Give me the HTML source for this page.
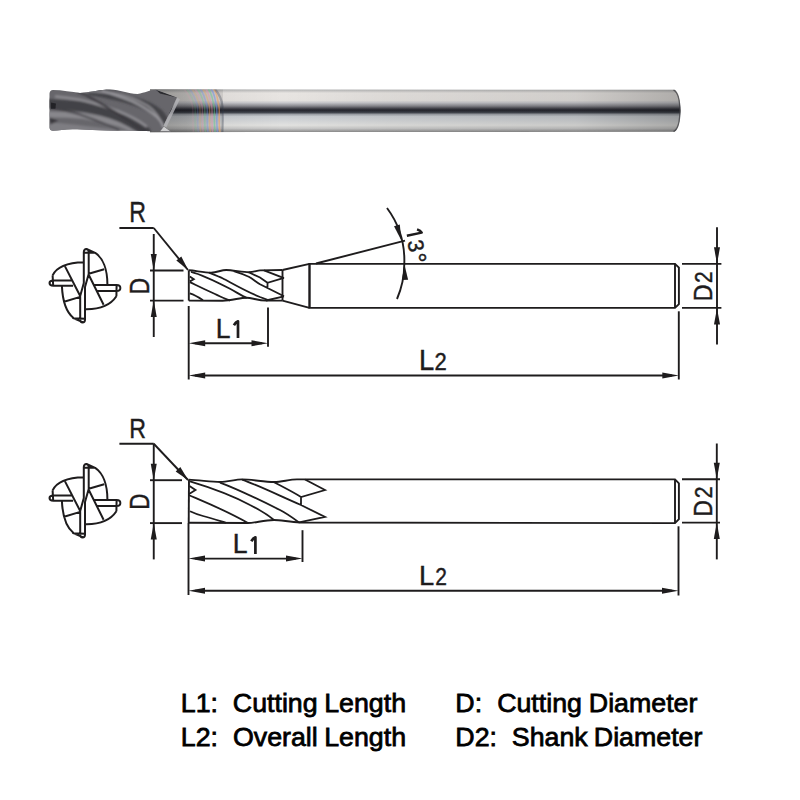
<!DOCTYPE html>
<html><head><meta charset="utf-8"><style>
html,body{margin:0;padding:0;background:#fff;width:800px;height:800px;overflow:hidden}
svg{display:block}
text{font-family:"Liberation Sans",sans-serif}
</style></head><body>
<svg width="800" height="800" viewBox="0 0 800 800">
<rect width="800" height="800" fill="#fff"/>
<defs>
<linearGradient id="shank" x1="0" y1="0" x2="0" y2="1">
<stop offset="0" stop-color="#7a7a7c"/>
<stop offset="0.04" stop-color="#b8b8b8"/>
<stop offset="0.11" stop-color="#e8e5e2"/>
<stop offset="0.27" stop-color="#e6e3e0"/>
<stop offset="0.32" stop-color="#c8c8cc"/>
<stop offset="0.39" stop-color="#8a8a90"/>
<stop offset="0.45" stop-color="#404048"/>
<stop offset="0.48" stop-color="#25262e"/>
<stop offset="0.53" stop-color="#3c4048"/>
<stop offset="0.576" stop-color="#a0a4aa"/>
<stop offset="0.62" stop-color="#c8ccd0"/>
<stop offset="0.716" stop-color="#d4d6d8"/>
<stop offset="0.81" stop-color="#e2e2e0"/>
<stop offset="0.88" stop-color="#c8c8c8"/>
<stop offset="0.95" stop-color="#909090"/>
<stop offset="1" stop-color="#787878"/>
</linearGradient>
<linearGradient id="neck" gradientUnits="userSpaceOnUse" x1="150" y1="0" x2="223" y2="0">
<stop offset="0" stop-color="#000" stop-opacity="0.3"/>
<stop offset="0.5" stop-color="#000" stop-opacity="0.22"/>
<stop offset="1" stop-color="#000" stop-opacity="0.08"/>
</linearGradient>
<linearGradient id="hshade" gradientUnits="userSpaceOnUse" x1="150" y1="0" x2="682" y2="0">
<stop offset="0" stop-color="#000" stop-opacity="0.08"/>
<stop offset="0.25" stop-color="#000" stop-opacity="0"/>
<stop offset="0.45" stop-color="#000" stop-opacity="0.05"/>
<stop offset="0.8" stop-color="#000" stop-opacity="0.1"/>
<stop offset="1" stop-color="#000" stop-opacity="0.25"/>
</linearGradient>
<linearGradient id="endshade" x1="0" y1="0" x2="1" y2="0">
<stop offset="0" stop-color="#000" stop-opacity="0"/>
<stop offset="1" stop-color="#000" stop-opacity="0.28"/>
</linearGradient>
<linearGradient id="flute" x1="0" y1="0" x2="0" y2="1">
<stop offset="0" stop-color="#6e6c70"/>
<stop offset="0.35" stop-color="#5a595e"/>
<stop offset="0.7" stop-color="#626166"/>
<stop offset="1" stop-color="#4c4b50"/>
</linearGradient>
<clipPath id="fclip"><path d="M49.5,93.5 Q49.8,90 53,90 C62,90 72,92 80,93 C92,92 100,89.5 110,89.5 C120,90 128,93.5 137.5,94 C145,93 150,89.8 156,89.8 L177,97.5 L163,126 L171,131.7 C150,131.7 140,130.8 125,130.8 C100,131 85,129.3 72.5,129.3 C65,129.5 58,130.8 53,130.8 Q49.8,130.8 49.5,127.5 Z"/></clipPath>
<clipPath id="sclip"><path d="M150,89.3 L674.5,89.8 C678.5,92 680.5,100 680.5,110.8 C680.5,121.5 678.5,129.5 674.5,131.8 L150,132.2 Z"/></clipPath>
<filter id="bl" x="-10%" y="-50%" width="120%" height="200%"><feGaussianBlur stdDeviation="1.2"/></filter>
<filter id="bl2" x="-10%" y="-50%" width="120%" height="200%"><feGaussianBlur stdDeviation="0.6"/></filter>
</defs><g clip-path="url(#sclip)"><rect x="150" y="88" width="532" height="46" fill="url(#shank)"/><rect x="150" y="88" width="532" height="46" fill="url(#hshade)"/><rect x="150" y="88" width="73" height="46" fill="url(#neck)"/><path d="M673.5,89.8 C678,92 680,100 680,110.8 C680,121.5 678,129.5 673.5,131.8" fill="none" stroke="#3a3a3e" stroke-width="1.6" opacity="0.7"/><g filter="url(#bl2)"><path d="M184.0,89 C188.0,94 191.0,100 192.5,106 C193.5,112 192.0,120 193.5,132" stroke="#e890b0" stroke-width="1.5" fill="none" opacity="0.12"/><path d="M186.7,89 C190.7,94 193.4,100 194.9,106 C195.9,112 194.4,120 195.9,132" stroke="#60c890" stroke-width="1.5" fill="none" opacity="0.16"/><path d="M189.4,89 C193.4,94 195.8,100 197.3,106 C198.3,112 196.8,120 198.3,132" stroke="#7090e8" stroke-width="1.5" fill="none" opacity="0.20"/><path d="M192.1,89 C196.1,94 198.2,100 199.7,106 C200.7,112 199.2,120 200.7,132" stroke="#f0a060" stroke-width="1.5" fill="none" opacity="0.24"/><path d="M194.8,89 C198.8,94 200.6,100 202.1,106 C203.1,112 201.6,120 203.1,132" stroke="#e890b0" stroke-width="1.5" fill="none" opacity="0.28"/><path d="M197.5,89 C201.5,94 203.0,100 204.5,106 C205.5,112 204.0,120 205.5,132" stroke="#60c890" stroke-width="1.5" fill="none" opacity="0.32"/><path d="M200.2,89 C204.2,94 205.4,100 206.9,106 C207.9,112 206.4,120 207.9,132" stroke="#7090e8" stroke-width="1.5" fill="none" opacity="0.36"/><path d="M202.9,89 C206.9,94 207.8,100 209.3,106 C210.3,112 208.8,120 210.3,132" stroke="#f0a060" stroke-width="1.5" fill="none" opacity="0.40"/><path d="M205.6,89 C209.6,94 210.2,100 211.7,106 C212.7,112 211.2,120 212.7,132" stroke="#e890b0" stroke-width="1.5" fill="none" opacity="0.44"/><path d="M208.3,89 C212.3,94 212.6,100 214.1,106 C215.1,112 213.6,120 215.1,132" stroke="#60c890" stroke-width="1.5" fill="none" opacity="0.48"/><path d="M211.0,89 C215.0,94 215.0,100 216.5,106 C217.5,112 216.0,120 217.5,132" stroke="#7090e8" stroke-width="1.5" fill="none" opacity="0.52"/><path d="M213.7,89 C217.7,94 217.4,100 218.9,106 C219.9,112 218.4,120 219.9,132" stroke="#f0a060" stroke-width="1.5" fill="none" opacity="0.56"/><path d="M215,89 C219,94 222,100 222.5,106 C223,115 223,122 222.5,132" stroke="#30344a" stroke-width="2.2" fill="none" opacity="0.3"/></g></g><g clip-path="url(#fclip)"><rect x="45" y="85" width="140" height="50" fill="#67666b"/><g filter="url(#bl)" fill="none" stroke-linecap="round"><path d="M49,122 C70,124 100,127 130,132 L49,132 Z" fill="#7e7d82" stroke="none"/><path d="M49,114.5 C60,114.5 72,115 83,116 C98,118 110,121 120,124 C126,126 131,129 135,132" stroke="#88878c" stroke-width="6"/><path d="M45,103.5 C50,104 53,104.4 55,104.4 C65,105 75,105.8 83,106.6 C95,108.5 108,112 118,116.2 C128,120 136,125 146,132" stroke="#434247" stroke-width="10"/><path d="M56,96.5 C65,97.5 72,98.5 78.6,99.5 C92,102 106,107 118,111 C128,115 138,120 146,126" stroke="#8c8b90" stroke-width="2.6"/><path d="M92,91 C100,92 110,94.5 118,96.5 C128,99 136,101.5 142,104 C152,108 158,112 161,116 C164,120 166,125 168,132" stroke="#454449" stroke-width="9"/><path d="M82,90.5 C92,91 102,92 112,93 C125,95 138,100 148,106 C155,111 160,118 163,127" stroke="#858489" stroke-width="2.4"/><path d="M50,117.5 L58.5,121 L50,124.5 Z" fill="#3a393e" stroke="none"/><path d="M78,92 C85,94 90,97 94,99.75 C102,104 108,108 115,112 C122,117 130,122 136,126 L145,131" stroke="#3c3b40" stroke-width="2.2"/><path d="M102.75,91 C112,94 124,98 132.5,101.5 C142,106 150,111 157,117.25 C160,120 162,123 164,127" stroke="#9a999e" stroke-width="2"/><path d="M52,108.5 C62,110 72,112 80,114.6 C90,118 98,121 106,124.25 C111,126 115,128 118.5,130" stroke="#46454a" stroke-width="1.8"/></g><g filter="url(#bl2)"><path d="M156,89.8 L177,97.5 L160,93.5 Z" fill="#2a2a2e"/><path d="M160,131.5 L166,124 L174,131.5 Z" fill="#cfcfd0"/><path d="M51,102.6 L55.9,103.5 L55.5,108.7 L51,108.7 Z" fill="#222226"/></g></g><path d="M178.5,98.5 L165,126.5" stroke="#b4b4b8" stroke-width="3" fill="none" filter="url(#bl2)" opacity="0.8"/>
<path transform="translate(0,0)" d="M83.8,252.5 L83.8,283 L80.2,296 L80.2,319.5 M88.7,252.5 L88.7,274 L85,287 L85,319.5 M83.8,252.5 C83.6,247.8 88.9,247.8 88.7,252.5 M83.8,252.5 L95.2,252.8 L86.5,249 M80.2,319.5 C80.2,323.5 85.2,323.5 85,319.5 M85,318.8 L73.1,318.2 L82.7,322.2 M71.4,280.4 L53.4,280.4 C48.2,280.4 48.2,285.7 53.4,285.7 L73.1,285.7 M52.6,275.4 L53.2,285.7 M94.1,285 L116.6,285 C121.6,285 121.6,291 116.6,291 L96.3,291 M116.6,285 L116.4,296.3 M65,266.4 L80.2,296 M88.7,274.8 L103.6,304.7 M83.8,262.2 C70,262.5 57,266 52.6,275.4 M95.2,252.8 C103,258 107.5,270 107.4,285 M61.9,285.9 C62.5,300 66,312 73.5,318 M116.4,296.3 C110,306 98,309.5 85,309.2 M88.7,273.7 L104.2,269.2 M64.1,301.7 L80.2,296.9" fill="none" stroke="#1e1c1d" stroke-width="2.0" stroke-linejoin="round"/><g fill="none" stroke="#1e1c1d" stroke-width="1.9"><line x1="119.4" y1="228" x2="153.75" y2="228"/><line x1="153.75" y1="228" x2="188" y2="270"/><line x1="153.75" y1="234" x2="153.75" y2="337"/><line x1="150" y1="270.5" x2="183.5" y2="270.5"/><line x1="150" y1="300.6" x2="183.5" y2="300.6"/><path d="M188.8,270.3 L188.8,300.6" /><path d="M188.8,270.3 C196,270.8 204,272.6 211.25,272.6 C217,272.6 221,270 226.25,270 C232,270 243,272.25 248.75,272.25 C254,272.25 257,270.4 260,270.4 L282.5,270"/><path d="M188.8,300.6 L222.5,300.75 C232,300.5 240,297.75 246.5,297.75 C252,297.75 258,300.5 266,300.6 L282.5,300.6"/><path d="M282.5,270 L282.5,300.6"/><path stroke-width="1.8" d="M191,271.8 C200,274 215,281 230,288.75 C237,292.5 242,296 247,298 M209,272.6 C215,275 220,277 222.5,278.25 C230,282 245,291 260,297 L267.5,299.8 M233.75,271.1 C240,273 245,275 248.75,276.75 C253,279 256,282 260,284.25 L284,296.3 M248.75,272.25 L260,277.5 L267.5,282.75 L284,277.9 M267.5,282.75 L267.5,288.5 M264,270.3 L284,278.2 M266,300.5 L284,296.3 M189.8,282.1 C195,284.5 200,287.25 215,294 C220,296.5 225,298.5 230,300.6 M189.8,276.5 L193.8,279.2 L189.8,281.4 M189.8,293.4 C195,295 199,297.5 203,300.2"/><path d="M282.5,270 L309.5,263.85 M282.5,300.6 L309.5,307.9"/><path d="M309.5,263.85 L675,263.85 L678.9,267.6 L678.9,304.2 L675,307.9 L309.5,307.9 Z"/><line x1="309.5" y1="263.85" x2="309.5" y2="307.9"/><line x1="675" y1="263.85" x2="675" y2="307.9"/><line x1="316" y1="263.5" x2="405" y2="240.6"/><path d="M387,208 A88.5,88.5 0 0 1 404.3,263.85 A88.5,88.5 0 0 1 397,299"/><line x1="682" y1="263.85" x2="721.4" y2="263.85"/><line x1="682" y1="307.9" x2="721.4" y2="307.9"/><line x1="717" y1="227.3" x2="717" y2="344.6"/><line x1="188.7" y1="306" x2="188.7" y2="379.5"/><line x1="268" y1="307.5" x2="268" y2="346.8"/><line x1="195" y1="343.3" x2="262" y2="343.3"/><line x1="195" y1="375.5" x2="672" y2="375.5"/><line x1="678.8" y1="311.3" x2="678.8" y2="379.5"/></g><path d="M188.30,270.20 L176.34,260.60 L181.30,256.55 Z" fill="#1e1c1d" stroke="none"/><path d="M153.75,270.50 L150.75,254.00 L156.75,254.00 Z" fill="#1e1c1d" stroke="none"/><path d="M153.75,300.60 L156.75,317.10 L150.75,317.10 Z" fill="#1e1c1d" stroke="none"/><path d="M717.00,263.85 L714.00,247.35 L720.00,247.35 Z" fill="#1e1c1d" stroke="none"/><path d="M717.00,307.90 L720.00,324.40 L714.00,324.40 Z" fill="#1e1c1d" stroke="none"/><path d="M188.70,343.30 L205.20,340.30 L205.20,346.30 Z" fill="#1e1c1d" stroke="none"/><path d="M268.00,343.30 L251.50,346.30 L251.50,340.30 Z" fill="#1e1c1d" stroke="none"/><path d="M188.70,375.50 L205.20,372.50 L205.20,378.50 Z" fill="#1e1c1d" stroke="none"/><path d="M678.80,375.50 L662.30,378.50 L662.30,372.50 Z" fill="#1e1c1d" stroke="none"/><path d="M401.50,240.80 L394.03,226.34 L399.78,224.61 Z" fill="#1e1c1d" stroke="none"/><path d="M404.30,263.85 L408.10,279.68 L402.10,279.98 Z" fill="#1e1c1d" stroke="none"/>
<path transform="translate(0,215)" d="M83.8,252.5 L83.8,283 L80.2,296 L80.2,319.5 M88.7,252.5 L88.7,274 L85,287 L85,319.5 M83.8,252.5 C83.6,247.8 88.9,247.8 88.7,252.5 M83.8,252.5 L95.2,252.8 L86.5,249 M80.2,319.5 C80.2,323.5 85.2,323.5 85,319.5 M85,318.8 L73.1,318.2 L82.7,322.2 M71.4,280.4 L53.4,280.4 C48.2,280.4 48.2,285.7 53.4,285.7 L73.1,285.7 M52.6,275.4 L53.2,285.7 M94.1,285 L116.6,285 C121.6,285 121.6,291 116.6,291 L96.3,291 M116.6,285 L116.4,296.3 M65,266.4 L80.2,296 M88.7,274.8 L103.6,304.7 M83.8,262.2 C70,262.5 57,266 52.6,275.4 M95.2,252.8 C103,258 107.5,270 107.4,285 M61.9,285.9 C62.5,300 66,312 73.5,318 M116.4,296.3 C110,306 98,309.5 85,309.2 M88.7,273.7 L104.2,269.2 M64.1,301.7 L80.2,296.9" fill="none" stroke="#1e1c1d" stroke-width="2.0" stroke-linejoin="round"/><g fill="none" stroke="#1e1c1d" stroke-width="1.9"><line x1="119.4" y1="443.75" x2="153.75" y2="443.75"/><line x1="153.75" y1="443.75" x2="188" y2="480"/><line x1="153.75" y1="443.75" x2="153.75" y2="559.4"/><line x1="150" y1="480.2" x2="182" y2="480.2"/><line x1="150" y1="523.1" x2="182" y2="523.1"/><path d="M189,479.6 L188.7,523"/><path d="M188.7,479.6 C200,480.2 212,482 220,482 C228,482 235,479.4 242,479.4 C252,479.4 264,482 274,482 C282,482 289,479.4 297,479.4 L675,479.4 L678.9,483.3 L678.9,519.2 L675,523.1 L300,522.5 C290,522 280,520 274,520 C264,520 255,523 248,523 L189,522.8"/><path stroke-width="1.8" d="M190,481.4 C212,488 235,497 250,505 C260,510 268,515 274,520 M220,482.6 C240,490 260,500 280,510 C287,513.5 293,518 299,522.4 M242,479.6 C260,486 280,496 301,505 L325,517 L299,522.4 M274,482.2 C285,488 293,492 301,497 L325,490 L305,479.5 M301,497 L301,505 M188.7,495 C205,502 225,510 248,523 M189.5,486 L195.5,490 L188.7,494.3 M190,511.2 C195,513.5 199,515 203,516 C212,518.5 220,521 226,522.8"/><line x1="675" y1="479.4" x2="675" y2="523.1"/><line x1="682" y1="479.3" x2="720" y2="479.3"/><line x1="682" y1="522.6" x2="720" y2="522.6"/><line x1="716.8" y1="443.5" x2="716.8" y2="559.4"/><line x1="188.5" y1="523" x2="188.5" y2="595"/><line x1="302.5" y1="530.2" x2="302.5" y2="562"/><line x1="195" y1="558.6" x2="296" y2="558.6"/><line x1="195" y1="590.8" x2="672" y2="590.8"/><line x1="678.5" y1="526.3" x2="678.5" y2="595.5"/></g><path d="M188.30,480.20 L175.67,471.49 L180.32,467.10 Z" fill="#1e1c1d" stroke="none"/><path d="M153.75,480.20 L150.75,463.70 L156.75,463.70 Z" fill="#1e1c1d" stroke="none"/><path d="M153.75,523.10 L156.75,539.60 L150.75,539.60 Z" fill="#1e1c1d" stroke="none"/><path d="M716.80,479.30 L713.80,462.80 L719.80,462.80 Z" fill="#1e1c1d" stroke="none"/><path d="M716.80,522.60 L719.80,539.10 L713.80,539.10 Z" fill="#1e1c1d" stroke="none"/><path d="M188.50,558.60 L205.00,555.60 L205.00,561.60 Z" fill="#1e1c1d" stroke="none"/><path d="M302.50,558.60 L286.00,561.60 L286.00,555.60 Z" fill="#1e1c1d" stroke="none"/><path d="M188.50,590.80 L205.00,587.80 L205.00,593.80 Z" fill="#1e1c1d" stroke="none"/><path d="M678.50,590.80 L662.00,593.80 L662.00,587.80 Z" fill="#1e1c1d" stroke="none"/>
<text transform="translate(129.23,222.47) rotate(0) scale(0.791,1)" font-size="29.29" fill="#1e1c1d" stroke="#1e1c1d" stroke-width="0.45">R</text><text transform="translate(148.78,294.46) rotate(-90) scale(0.821,1)" font-size="27.98" fill="#1e1c1d" stroke="#1e1c1d" stroke-width="0.45">D</text><text transform="translate(215.75,337.57) rotate(0) scale(0.943,1)" font-size="28.13" fill="#1e1c1d" stroke="#1e1c1d" stroke-width="0.45">L</text><path d="M238,337.9 L238,321.3 Q235.8,322.1 233.9,325.2" fill="none" stroke="#1e1c1d" stroke-width="2.7" stroke-linecap="butt" stroke-linejoin="round"/><text transform="translate(418.98,369.57) rotate(0) scale(0.947,1)" font-size="28.85" fill="#1e1c1d" stroke="#1e1c1d" stroke-width="0.45">L</text><text transform="translate(434.62,369.57) rotate(0) scale(0.888,1)" font-size="24.85" fill="#1e1c1d" stroke="#1e1c1d" stroke-width="0.45">2</text><text transform="translate(711.52,301.19) rotate(-90) scale(0.876,1)" font-size="26.60" fill="#1e1c1d" stroke="#1e1c1d" stroke-width="0.45">D</text><text transform="translate(711.52,283.08) rotate(-90) scale(0.884,1)" font-size="23.70" fill="#1e1c1d" stroke="#1e1c1d" stroke-width="0.45">2</text><path transform="translate(414.4,232.75) rotate(78) translate(1.4,8.0)" d="M0,0 L0,-15.2 Q-2.2,-14.4 -4.1,-11.3" fill="none" stroke="#1e1c1d" stroke-width="2.5" stroke-linejoin="round"/><text transform="translate(407.37,241.58) rotate(78) scale(0.970,1)" font-size="22.00" fill="#1e1c1d" stroke="#1e1c1d" stroke-width="0.45">3</text><text transform="translate(407.40,255.38) rotate(78) scale(1.000,1)" font-size="25.50" fill="#1e1c1d" stroke="#1e1c1d" stroke-width="0.45">°</text><text transform="translate(129.23,437.52) rotate(0) scale(0.859,1)" font-size="26.96" fill="#1e1c1d" stroke="#1e1c1d" stroke-width="0.45">R</text><text transform="translate(148.78,509.71) rotate(-90) scale(0.800,1)" font-size="27.98" fill="#1e1c1d" stroke="#1e1c1d" stroke-width="0.45">D</text><text transform="translate(232.64,553.38) rotate(0) scale(0.957,1)" font-size="27.83" fill="#1e1c1d" stroke="#1e1c1d" stroke-width="0.45">L</text><path d="M255.4,553.9 L255.4,537.3 Q253.20000000000002,538.1 251.3,541.2" fill="none" stroke="#1e1c1d" stroke-width="2.7" stroke-linecap="butt" stroke-linejoin="round"/><text transform="translate(418.98,584.77) rotate(0) scale(0.962,1)" font-size="28.42" fill="#1e1c1d" stroke="#1e1c1d" stroke-width="0.45">L</text><text transform="translate(435.17,584.77) rotate(0) scale(0.884,1)" font-size="23.70" fill="#1e1c1d" stroke="#1e1c1d" stroke-width="0.45">2</text><text transform="translate(711.52,516.77) rotate(-90) scale(0.866,1)" font-size="26.60" fill="#1e1c1d" stroke="#1e1c1d" stroke-width="0.45">D</text><text transform="translate(711.52,498.34) rotate(-90) scale(0.894,1)" font-size="23.70" fill="#1e1c1d" stroke="#1e1c1d" stroke-width="0.45">2</text>
<text transform="translate(180.81,712.2) scale(1.03,1)" font-size="26" fill="#000" stroke="#000" stroke-width="0.75">L1:</text><text transform="translate(232.84,712.2) scale(1.03,1)" font-size="26" fill="#000" stroke="#000" stroke-width="0.75">Cutting</text><text transform="translate(324.21,712.2) scale(1.03,1)" font-size="26" fill="#000" stroke="#000" stroke-width="0.75">Length</text><text transform="translate(180.81,745.5) scale(1.03,1)" font-size="26" fill="#000" stroke="#000" stroke-width="0.75">L2:</text><text transform="translate(232.93,745.5) scale(1.03,1)" font-size="26" fill="#000" stroke="#000" stroke-width="0.75">Overall</text><text transform="translate(324.21,745.5) scale(1.03,1)" font-size="26" fill="#000" stroke="#000" stroke-width="0.75">Length</text><text transform="translate(455.31,712.2) scale(1.03,1)" font-size="26" fill="#000" stroke="#000" stroke-width="0.75">D:</text><text transform="translate(497.14,712.2) scale(1.03,1)" font-size="26" fill="#000" stroke="#000" stroke-width="0.75">Cutting</text><text transform="translate(588.81,712.2) scale(1.03,1)" font-size="26" fill="#000" stroke="#000" stroke-width="0.75">Diameter</text><text transform="translate(455.31,745.5) scale(1.03,1)" font-size="26" fill="#000" stroke="#000" stroke-width="0.75">D2:</text><text transform="translate(511.78,745.5) scale(1.03,1)" font-size="26" fill="#000" stroke="#000" stroke-width="0.75">Shank</text><text transform="translate(593.81,745.5) scale(1.03,1)" font-size="26" fill="#000" stroke="#000" stroke-width="0.75">Diameter</text>
</svg>
</body></html>
